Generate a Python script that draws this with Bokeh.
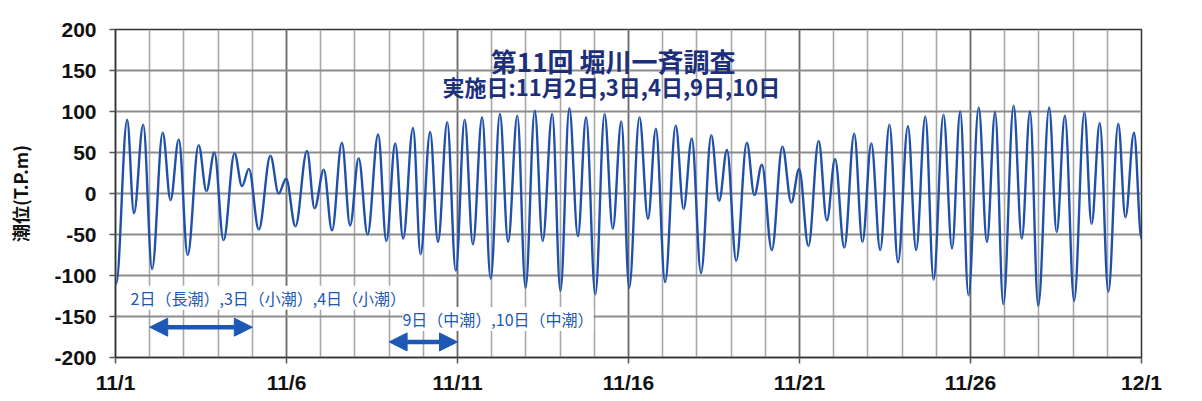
from bokeh.plotting import figure
from bokeh.models import Range1d, FixedTicker, Label, Arrow, NormalHead, ColumnDataSource
from bokeh.embed import file_html
from bokeh.resources import INLINE

# ---- data ----
# time of each tide extremum, in days after 11/1 00:00
tide_day = [0.02, 0.34, 0.54, 0.81, 1.07, 1.38, 1.61, 1.85, 2.11, 2.43, 2.66, 2.89,
            3.16, 3.48, 3.70, 3.90, 4.19, 4.53, 4.77, 4.99, 5.26, 5.60, 5.82, 6.09,
            6.33, 6.62, 6.86, 7.11, 7.37, 7.68, 7.92, 8.18, 8.41, 8.70, 8.92, 9.20,
            9.43, 9.70, 9.95, 10.21, 10.45, 10.72, 10.97, 11.24, 11.48, 11.75, 11.99, 12.26,
            12.49, 12.77, 13.01, 13.27, 13.52, 13.76, 14.03, 14.30, 14.54, 14.79, 15.02, 15.32,
            15.57, 15.80, 16.07, 16.38, 16.61, 16.85, 17.12, 17.42, 17.65, 17.88, 18.15, 18.46,
            18.68, 18.90, 19.19, 19.50, 19.76, 19.99, 20.26, 20.56, 20.80, 21.04, 21.31, 21.60,
            21.84, 22.10, 22.36, 22.63, 22.88, 23.17, 23.41, 23.68, 23.92, 24.21, 24.46, 24.70,
            24.94, 25.24, 25.48, 25.72, 25.96, 26.26, 26.50, 26.74, 26.98, 27.30, 27.52, 27.76,
            28.03, 28.33, 28.54, 28.78, 29.03, 29.32, 29.53, 29.78, 30.00]
# tide level at each extremum (T.P. cm)
tide_level = [-110, 90, -24, 84, -92, 74, -8, 66, -75, 59, 3, 50,
              -57, 49, 9, 30, -44, 46, 0, 18, -40, 52, -18, 29,
              -45, 62, -39, 43, -50, 72, -58, 61, -55, 80, -74, 75,
              -59, 87, -94, 90, -62, 93, -104, 97, -59, 95, -115, 101,
              -58, 97, -119, 104, -52, 93, -123, 97, -43, 88, -115, 93,
              -31, 79, -108, 83, -19, 67, -97, 71, -9, 53, -82, 62,
              -2, 35, -69, 57, -11, 30, -64, 64, -33, 42, -66, 73,
              -59, 61, -69, 84, -84, 82, -69, 94, -105, 96, -67, 100,
              -124, 105, -59, 99, -135, 107, -55, 100, -137, 105, -47, 95,
              -131, 99, -37, 86, -120, 85, -29, 74, -55]

x_tick_days = [0, 5, 10, 15, 20, 25, 30]
x_tick_labels = ["11/1", "11/6", "11/11", "11/16", "11/21", "11/26", "12/1"]
y_ticks = [-200, -150, -100, -50, 0, 50, 100, 150, 200]
y_tick_labels = ["-200", "-150", "-100", "-50", "0", "50", "100", "150", "200"]

title_text = "第11回 堀川一斉調査"
subtitle_text = "実施日:11月2日,3日,4日,9日,10日"
note_texts = ["2日（長潮）,3日（小潮）,4日（小潮）", "9日（中潮）,10日（中潮）"]
note_span_start = [1, 8]
note_span_end = [4, 10]

# ---- smooth curve between extrema (bezier with flat tangents at each extremum) ----
k = 0.36
x0 = tide_day[:-1]; x1 = tide_day[1:]
y0 = tide_level[:-1]; y1 = tide_level[1:]
cx0 = [a + k * (b - a) for a, b in zip(x0, x1)]
cx1 = [b - k * (b - a) for a, b in zip(x0, x1)]
src = ColumnDataSource(dict(x0=x0, y0=y0, x1=x1, y1=y1, cx0=cx0, cy0=y0, cx1=cx1, cy1=y1))

p = figure(frame_width=1026, frame_height=328, output_backend="svg", toolbar_location=None,
           x_range=Range1d(0, 30), y_range=Range1d(-200, 200),
           min_border_left=115, min_border_right=53, min_border_top=29, min_border_bottom=36)
p.background_fill_color = "white"
p.border_fill_color = "white"
p.outline_line_color = "#333333"
p.outline_line_width = 1.5

p.bezier(x0="x0", y0="y0", x1="x1", y1="y1", cx0="cx0", cy0="cy0", cx1="cx1", cy1="cy1",
         source=src, line_color="#1f50aa", line_width=2.4)

# axes
p.xaxis.ticker = FixedTicker(ticks=x_tick_days, minor_ticks=list(range(0, 31)))
p.xaxis.major_label_overrides = {d: s for d, s in zip(x_tick_days, x_tick_labels)}
p.yaxis.ticker = FixedTicker(ticks=y_ticks)
p.yaxis.major_label_overrides = {v: s for v, s in zip(y_ticks, y_tick_labels)}
for ax in (p.xaxis[0], p.yaxis[0]):
    ax.major_label_text_font = "Liberation Sans"
    ax.major_label_text_font_size = "21px"
    ax.major_label_text_font_style = "bold"
    ax.major_label_text_color = "#111111"
    ax.axis_line_color = "#333333"
    ax.axis_line_width = 1.5
    ax.major_tick_line_color = "#555555"
    ax.major_tick_line_width = 1.5
    ax.major_tick_in = 0
    ax.major_tick_out = 6
    ax.minor_tick_in = 0
    ax.minor_tick_out = 0
p.xaxis.major_label_standoff = 7
p.yaxis.major_label_standoff = 13
p.yaxis.axis_label = "潮位(T.P.m)"
p.yaxis.axis_label_text_font = "Noto Sans CJK JP"
p.yaxis.axis_label_text_font_size = "18px"
p.yaxis.axis_label_text_font_style = "bold"
p.yaxis.axis_label_text_color = "#111111"
p.yaxis.axis_label_standoff = 18

# grids
p.xgrid.grid_line_color = "#6a6a6a"
p.xgrid.grid_line_width = 1.6
p.xgrid.minor_grid_line_color = "#a8a8a8"
p.xgrid.minor_grid_line_width = 1.6
p.ygrid.grid_line_color = "#8c8c8c"
p.ygrid.grid_line_width = 1.8

# titles
p.add_layout(Label(x=14.55, y=162, text=title_text, text_align="center", text_baseline="middle",
                   text_font="Noto Sans CJK JP", text_font_style="bold", text_font_size="26px",
                   text_color="#1b2f7a"))
p.add_layout(Label(x=14.5, y=131, text=subtitle_text, text_align="center", text_baseline="middle",
                   text_font="Noto Sans CJK JP", text_font_style="bold", text_font_size="22px",
                   text_color="#1b2f7a"))

# period notes with arrows
note_x = [0.44, 8.39]
note_y = [-127, -153]
arrow_y = [-163, -181]
for i in range(2):
    p.add_layout(Label(x=note_x[i], y=note_y[i], text=note_texts[i], text_align="left",
                       text_baseline="middle", text_font="Noto Sans CJK JP",
                       text_font_size="16px", text_color="#1d58b4",
                       background_fill_color="white", background_fill_alpha=1.0))
    p.add_layout(Arrow(start=NormalHead(size=18, fill_color="#1d58b4", line_color="#1d58b4"),
                       end=NormalHead(size=18, fill_color="#1d58b4", line_color="#1d58b4"),
                       x_start=note_span_start[i], y_start=arrow_y[i],
                       x_end=note_span_end[i], y_end=arrow_y[i],
                       line_color="#1d58b4", line_width=4.5))

open("out.html", "w").write(file_html(p, INLINE))
